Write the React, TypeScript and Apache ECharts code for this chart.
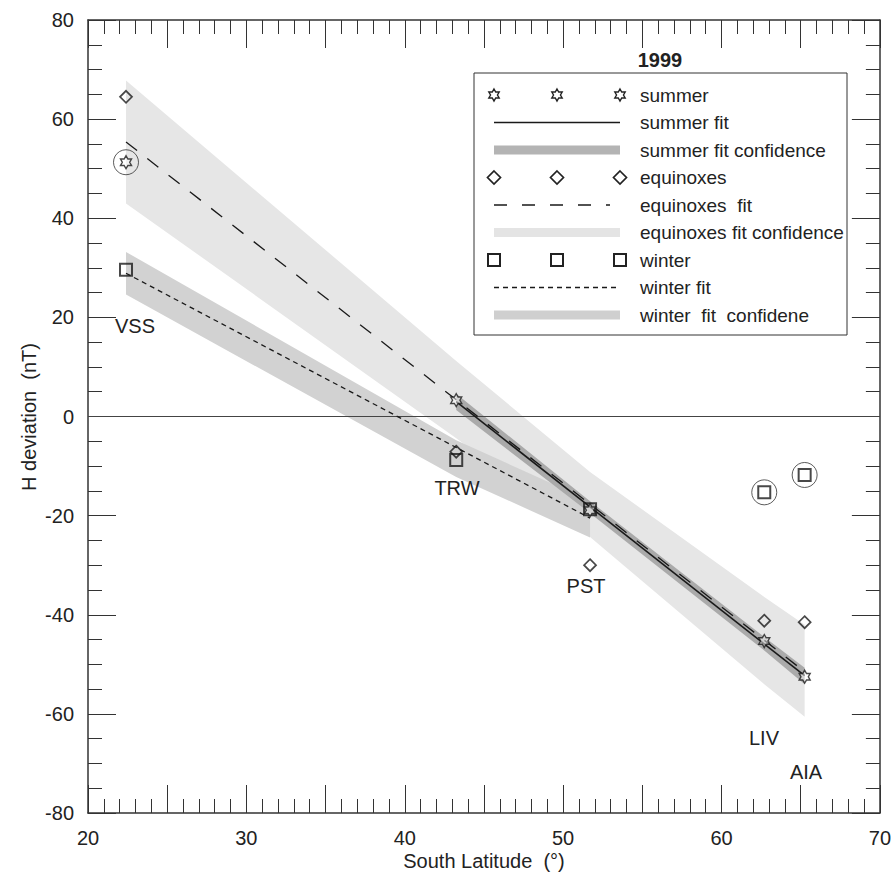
import React, { useEffect, useRef } from "react";
import * as echarts from "echarts";

// ---- data ----
const stations = ["VSS", "TRW", "PST", "LIV", "AIA"];
const latitude = [22.4, 43.25, 51.7, 62.7, 65.25];
const summerH = [51.3, 3.3, -18.9, -45.3, -52.5];
const equinoxH = [64.5, -7.1, -30.0, -41.2, -41.5];
const winterH = [29.6, -8.8, -18.7, -15.3, -11.8];
const summerExcluded = ["VSS"];
const winterExcluded = ["LIV", "AIA"];

const summerFitLat = [43.25, 65.25];
const summerFitH = [3.0, -52.3];
const summerBandLat = [43.25, 51.7, 62.7, 65.25];
const summerBandLo = [1.3, -19.5, -47.2, -54.0];
const summerBandHi = [4.6, -17.1, -44.5, -50.7];

const equinoxFitLat = [22.4, 65.25];
const equinoxFitH = [55.4, -51.5];
const equinoxBandLat = [22.4, 43.25, 51.7, 62.7, 65.25];
const equinoxBandLo = [43.0, -4.4, -24.3, -54.0, -60.6];
const equinoxBandHi = [67.8, 11.2, -11.2, -36.4, -42.0];

const winterFitLat = [22.4, 51.7];
const winterFitH = [28.9, -20.5];
const winterBandLat = [22.4, 43.25, 51.7];
const winterBandLo = [24.6, -12.2, -24.4];
const winterBandHi = [33.2, -4.8, -17.0];

const legendTitle = "1999";
const legendLabels = [
  "summer",
  "summer fit",
  "summer fit confidence",
  "equinoxes",
  "equinoxes  fit",
  "equinoxes fit confidence",
  "winter",
  "winter fit",
  "winter  fit  confidene",
];
const stationLabelPos: Record<string, [number, number]> = {
  VSS: [135, 326],
  TRW: [457, 488],
  PST: [586, 586],
  LIV: [764, 738],
  AIA: [806, 772],
};

const FONT = "'Liberation Sans', Arial, Helvetica, sans-serif";
const STAR =
  "path://M50 0L64.43 25L93.3 25L78.87 50L93.3 75L64.43 75L50 100L35.57 75L6.7 75L21.13 50L6.7 25L35.57 25Z";

function hexagram(cx: number, cy: number, R: number) {
  const pts: number[][] = [];
  for (let k = 0; k < 12; k++) {
    const a = -Math.PI / 2 + (k * Math.PI) / 6;
    const r = k % 2 === 0 ? R : R / Math.sqrt(3);
    pts.push([cx + r * Math.cos(a), cy + r * Math.sin(a)]);
  }
  return pts;
}

function bandSeries(xs: number[], lo: number[], hi: number[], color: string, z: number) {
  return {
    type: "custom",
    z,
    silent: true,
    data: xs.map((x, i) => [x, lo[i], hi[i]]),
    encode: { x: 0, y: [1, 2] },
    renderItem: (params: any, api: any) => {
      if (params.dataIndex !== 0) return null;
      const upper = xs.map((x, i) => api.coord([x, hi[i]]));
      const lower = xs.map((x, i) => api.coord([x, lo[i]])).reverse();
      return {
        type: "polygon",
        shape: { points: upper.concat(lower) },
        style: { fill: color, stroke: null },
      };
    },
  };
}

function lineSeries(xs: number[], ys: number[], type: any, width: number, z: number) {
  return {
    type: "line",
    z,
    silent: true,
    symbol: "none",
    data: xs.map((x, i) => [x, ys[i]]),
    lineStyle: { color: "#1a1a1a", width, type },
  };
}

export default function App() {
  const ref = useRef<HTMLDivElement>(null);
  useEffect(() => {
    if (!ref.current) return;
    const chart = echarts.init(ref.current, null, { renderer: "svg" });

    const axisCommon = {
      type: "value",
      splitLine: { show: false },
      axisLine: { show: true, onZero: false, lineStyle: { color: "#333", width: 1.5 } },
      axisTick: { show: true, inside: true, length: 28, lineStyle: { color: "#333", width: 1 } },
      minorTick: { show: true, length: 14, lineStyle: { color: "#333", width: 1 } },
    };

    // legend graphic
    const LX0 = 494, LX1 = 620, LXM = 557, LBL = 640;
    const rowY = (i: number) => 95 + i * 27.5;
    const g: any[] = [];
    g.push({
      type: "rect",
      z: 100,
      shape: { x: 474, y: 73, width: 373, height: 262 },
      style: { fill: "#fff", stroke: "#333", lineWidth: 1 },
    });
    g.push({
      type: "text",
      z: 101,
      x: 660,
      y: 60,
      style: { text: legendTitle, font: `bold 20px ${FONT}`, fill: "#222", align: "center", verticalAlign: "middle" },
    });
    legendLabels.forEach((t, i) => {
      g.push({
        type: "text",
        z: 101,
        x: LBL,
        y: rowY(i),
        style: { text: t, font: `19px ${FONT}`, fill: "#222", align: "left", verticalAlign: "middle" },
      });
    });
    [LX0, LXM, LX1].forEach((cx) => {
      g.push({
        type: "polygon",
        z: 101,
        shape: { points: hexagram(cx, rowY(0), 6) },
        style: { fill: "#fff", stroke: "#222", lineWidth: 1.4 },
      });
      g.push({
        type: "polygon",
        z: 101,
        shape: { points: [[cx, rowY(3) - 6.5], [cx + 6.5, rowY(3)], [cx, rowY(3) + 6.5], [cx - 6.5, rowY(3)]] },
        style: { fill: "#fff", stroke: "#222", lineWidth: 1.7 },
      });
      g.push({
        type: "rect",
        z: 101,
        shape: { x: cx - 6, y: rowY(6) - 6, width: 12, height: 12 },
        style: { fill: "#fff", stroke: "#222", lineWidth: 2 },
      });
    });
    g.push({
      type: "line", z: 101,
      shape: { x1: LX0, y1: rowY(1), x2: LX1, y2: rowY(1) },
      style: { stroke: "#1a1a1a", lineWidth: 1.3 },
    });
    g.push({
      type: "line", z: 101,
      shape: { x1: LX0, y1: rowY(4), x2: LX1 - 10, y2: rowY(4) },
      style: { stroke: "#1a1a1a", lineWidth: 1.3, lineDash: [13, 15] },
    });
    g.push({
      type: "line", z: 101,
      shape: { x1: LX0, y1: rowY(7), x2: LX1, y2: rowY(7) },
      style: { stroke: "#1a1a1a", lineWidth: 1.3, lineDash: [5, 4] },
    });
    [[2, "#b4b4b4"], [5, "#e4e4e4"], [8, "#cfcfcf"]].forEach(([i, c]: any) => {
      g.push({
        type: "rect", z: 101,
        shape: { x: LX0, y: rowY(i) - 4.5, width: LX1 - LX0, height: 9 },
        style: { fill: c, stroke: null },
      });
    });
    // station labels
    stations.forEach((s) => {
      const p = stationLabelPos[s];
      g.push({
        type: "text",
        z: 50,
        x: p[0],
        y: p[1],
        style: { text: s, font: `20px ${FONT}`, fill: "#222", align: "center", verticalAlign: "middle" },
      });
    });
    // axis titles
    g.push({
      type: "text",
      x: 484,
      y: 861,
      style: { text: "South Latitude  (°)", font: `20px ${FONT}`, fill: "#222", align: "center", verticalAlign: "middle" },
    });
    g.push({
      type: "text",
      x: 29,
      y: 417,
      rotation: Math.PI / 2,
      style: { text: "H deviation  (nT)", font: `20px ${FONT}`, fill: "#222", align: "center", verticalAlign: "middle" },
    });

    const pts = (ys: number[]) => latitude.map((x, i) => [x, ys[i]]);
    const circled = [
      ...summerExcluded.map((s) => [latitude[stations.indexOf(s)], summerH[stations.indexOf(s)]]),
      ...winterExcluded.map((s) => [latitude[stations.indexOf(s)], winterH[stations.indexOf(s)]]),
    ];

    chart.setOption({
      animation: false,
      textStyle: { fontFamily: FONT },
      grid: { left: 88, right: 13, top: 20, bottom: 61, containLabel: false },
      xAxis: [
        {
          ...axisCommon,
          position: "bottom",
          min: 20,
          max: 70,
          interval: 5,
          minorTick: { ...axisCommon.minorTick, splitNumber: 5 },
          axisLabel: {
            show: true,
            margin: 15,
            fontSize: 20,
            color: "#222",
            fontFamily: FONT,
            formatter: (v: number) => (v % 10 === 0 ? String(v) : ""),
          },
        },
        {
          ...axisCommon,
          position: "top",
          min: 20,
          max: 70,
          interval: 5,
          minorTick: { ...axisCommon.minorTick, splitNumber: 5 },
          axisLabel: { show: false },
        },
      ],
      yAxis: [
        {
          ...axisCommon,
          position: "left",
          min: -80,
          max: 80,
          interval: 20,
          minorTick: { ...axisCommon.minorTick, splitNumber: 4 },
          axisLabel: { show: true, margin: 14, fontSize: 20, color: "#222", fontFamily: FONT },
        },
        {
          ...axisCommon,
          position: "right",
          min: -80,
          max: 80,
          interval: 20,
          minorTick: { ...axisCommon.minorTick, splitNumber: 4 },
          axisLabel: { show: false },
        },
      ],
      graphic: g,
      series: [
        bandSeries(equinoxBandLat, equinoxBandLo, equinoxBandHi, "#e6e6e6", 1),
        bandSeries(winterBandLat, winterBandLo, winterBandHi, "#d2d2d2", 2),
        bandSeries(summerBandLat, summerBandLo, summerBandHi, "#aaaaaa", 3),
        {
          type: "line",
          z: 4,
          silent: true,
          data: [],
          markLine: {
            silent: true,
            symbol: "none",
            label: { show: false },
            lineStyle: { type: "solid", color: "#444", width: 1 },
            data: [{ yAxis: 0 }],
          },
        },
        lineSeries(equinoxFitLat, equinoxFitH, [14, 13], 1.3, 5),
        lineSeries(winterFitLat, winterFitH, [5, 4], 1.3, 5),
        lineSeries(summerFitLat, summerFitH, "solid", 1.6, 5),
        {
          type: "scatter",
          z: 6,
          silent: true,
          symbol: "circle",
          symbolSize: 25,
          data: circled,
          itemStyle: { color: "rgba(0,0,0,0)", borderColor: "#333", borderWidth: 1 },
        },
        {
          type: "scatter",
          z: 7,
          silent: true,
          symbol: "diamond",
          symbolSize: 12,
          data: pts(equinoxH),
          itemStyle: { color: "rgba(0,0,0,0)", borderColor: "#1a1a1a", borderWidth: 1.7 },
        },
        {
          type: "scatter",
          z: 7,
          silent: true,
          symbol: "rect",
          symbolSize: 12,
          data: pts(winterH),
          itemStyle: { color: "rgba(0,0,0,0)", borderColor: "#1a1a1a", borderWidth: 2 },
        },
        {
          type: "scatter",
          z: 8,
          silent: true,
          symbol: STAR,
          symbolSize: [11, 13],
          data: pts(summerH),
          itemStyle: { color: "rgba(255,255,255,0.6)", borderColor: "#1a1a1a", borderWidth: 1.4 },
        },
      ],
    });
    return () => chart.dispose();
  }, []);
  return (
    <div
      ref={ref}
      style={{ position: "fixed", left: 0, top: 0, width: 894, height: 874, background: "#fff" }}
    />
  );
}
